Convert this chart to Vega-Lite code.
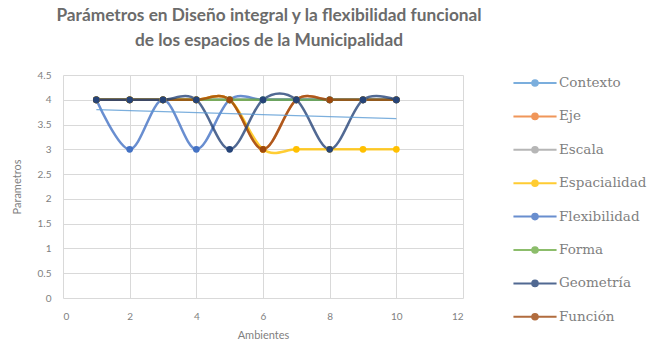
{
  "$schema": "https://vega.github.io/schema/vega-lite/v6.json",
  "width": 400,
  "height": 223,
  "autosize": {"type": "none"},
  "padding": {"left": 63, "top": 75, "right": 191, "bottom": 47},
  "background": "white",
  "title": {
    "text": ["Parámetros en Diseño integral y la flexibilidad funcional", "de los espacios de la Municipalidad"],
    "font": "Lato",
    "fontSize": 17.3,
    "fontWeight": "bold",
    "color": "#6b6b6b",
    "anchor": "middle",
    "frame": "group",
    "dx": 6,
    "lineHeight": 25,
    "offset": 16
  },
  "config": {
    "view": {"stroke": null},
    "axis": {
      "labelFont": "Lato",
      "titleFont": "Lato",
      "labelColor": "#7f7f7f",
      "titleColor": "#7f7f7f",
      "labelFontSize": 10,
      "titleFontSize": 11,
      "titleFontWeight": "normal",
      "gridColor": "#d9d9d9",
      "gridWidth": 1,
      "domain": false,
      "ticks": false,
      "labelOverlap": false
    }
  },
  "datasets": {
    "series": [
      {"serie": "Contexto", "ambiente": 1, "valor": 4},
      {"serie": "Contexto", "ambiente": 2, "valor": 4},
      {"serie": "Contexto", "ambiente": 3, "valor": 4},
      {"serie": "Contexto", "ambiente": 4, "valor": 4},
      {"serie": "Contexto", "ambiente": 5, "valor": 4},
      {"serie": "Contexto", "ambiente": 6, "valor": 4},
      {"serie": "Contexto", "ambiente": 7, "valor": 4},
      {"serie": "Contexto", "ambiente": 8, "valor": 4},
      {"serie": "Contexto", "ambiente": 9, "valor": 4},
      {"serie": "Contexto", "ambiente": 10, "valor": 4},
      {"serie": "Eje", "ambiente": 1, "valor": 4},
      {"serie": "Eje", "ambiente": 2, "valor": 4},
      {"serie": "Eje", "ambiente": 3, "valor": 4},
      {"serie": "Eje", "ambiente": 4, "valor": 4},
      {"serie": "Eje", "ambiente": 5, "valor": 4},
      {"serie": "Eje", "ambiente": 6, "valor": 3},
      {"serie": "Eje", "ambiente": 7, "valor": 4},
      {"serie": "Eje", "ambiente": 8, "valor": 4},
      {"serie": "Eje", "ambiente": 9, "valor": 4},
      {"serie": "Eje", "ambiente": 10, "valor": 4},
      {"serie": "Escala", "ambiente": 1, "valor": 4},
      {"serie": "Escala", "ambiente": 2, "valor": 4},
      {"serie": "Escala", "ambiente": 3, "valor": 4},
      {"serie": "Escala", "ambiente": 4, "valor": 4},
      {"serie": "Escala", "ambiente": 5, "valor": 4},
      {"serie": "Escala", "ambiente": 6, "valor": 4},
      {"serie": "Escala", "ambiente": 7, "valor": 4},
      {"serie": "Escala", "ambiente": 8, "valor": 4},
      {"serie": "Escala", "ambiente": 9, "valor": 4},
      {"serie": "Escala", "ambiente": 10, "valor": 4},
      {"serie": "Espacialidad", "ambiente": 1, "valor": 4},
      {"serie": "Espacialidad", "ambiente": 2, "valor": 4},
      {"serie": "Espacialidad", "ambiente": 3, "valor": 4},
      {"serie": "Espacialidad", "ambiente": 4, "valor": 4},
      {"serie": "Espacialidad", "ambiente": 5, "valor": 4},
      {"serie": "Espacialidad", "ambiente": 6, "valor": 3},
      {"serie": "Espacialidad", "ambiente": 7, "valor": 3},
      {"serie": "Espacialidad", "ambiente": 8, "valor": 3},
      {"serie": "Espacialidad", "ambiente": 9, "valor": 3},
      {"serie": "Espacialidad", "ambiente": 10, "valor": 3},
      {"serie": "Flexibilidad", "ambiente": 1, "valor": 4},
      {"serie": "Flexibilidad", "ambiente": 2, "valor": 3},
      {"serie": "Flexibilidad", "ambiente": 3, "valor": 4},
      {"serie": "Flexibilidad", "ambiente": 4, "valor": 3},
      {"serie": "Flexibilidad", "ambiente": 5, "valor": 4},
      {"serie": "Flexibilidad", "ambiente": 6, "valor": 4},
      {"serie": "Flexibilidad", "ambiente": 7, "valor": 4},
      {"serie": "Flexibilidad", "ambiente": 8, "valor": 4},
      {"serie": "Flexibilidad", "ambiente": 9, "valor": 4},
      {"serie": "Flexibilidad", "ambiente": 10, "valor": 4},
      {"serie": "Forma", "ambiente": 1, "valor": 4},
      {"serie": "Forma", "ambiente": 2, "valor": 4},
      {"serie": "Forma", "ambiente": 3, "valor": 4},
      {"serie": "Forma", "ambiente": 4, "valor": 4},
      {"serie": "Forma", "ambiente": 5, "valor": 4},
      {"serie": "Forma", "ambiente": 6, "valor": 4},
      {"serie": "Forma", "ambiente": 7, "valor": 4},
      {"serie": "Forma", "ambiente": 8, "valor": 4},
      {"serie": "Forma", "ambiente": 9, "valor": 4},
      {"serie": "Forma", "ambiente": 10, "valor": 4},
      {"serie": "Función", "ambiente": 1, "valor": 4},
      {"serie": "Función", "ambiente": 2, "valor": 4},
      {"serie": "Función", "ambiente": 3, "valor": 4},
      {"serie": "Función", "ambiente": 4, "valor": 4},
      {"serie": "Función", "ambiente": 5, "valor": 4},
      {"serie": "Función", "ambiente": 6, "valor": 3},
      {"serie": "Función", "ambiente": 7, "valor": 4},
      {"serie": "Función", "ambiente": 8, "valor": 4},
      {"serie": "Función", "ambiente": 9, "valor": 4},
      {"serie": "Función", "ambiente": 10, "valor": 4},
      {"serie": "Geometría", "ambiente": 1, "valor": 4},
      {"serie": "Geometría", "ambiente": 2, "valor": 4},
      {"serie": "Geometría", "ambiente": 3, "valor": 4},
      {"serie": "Geometría", "ambiente": 4, "valor": 4},
      {"serie": "Geometría", "ambiente": 5, "valor": 3},
      {"serie": "Geometría", "ambiente": 6, "valor": 4},
      {"serie": "Geometría", "ambiente": 7, "valor": 4},
      {"serie": "Geometría", "ambiente": 8, "valor": 3},
      {"serie": "Geometría", "ambiente": 9, "valor": 4},
      {"serie": "Geometría", "ambiente": 10, "valor": 4}
    ],
    "tendencia": [
      {"ambiente": 1, "valor": 3.8},
      {"ambiente": 10, "valor": 3.62}
    ]
  },
  "layer": [
    {
      "data": {"name": "series"},
      "mark": {
        "type": "line",
        "interpolate": "cardinal",
        "tension": 0,
        "strokeWidth": 2.5,
        "opacity": 0.8,
        "point": {"size": 45, "filled": true, "opacity": 1}
      },
      "encoding": {
        "x": {
          "field": "ambiente",
          "type": "quantitative",
          "scale": {"domain": [0, 12], "nice": false},
          "axis": {
            "title": "Ambientes",
            "values": [0, 2, 4, 6, 8, 10, 12],
            "labelPadding": 13,
            "titlePadding": 8
          }
        },
        "y": {
          "field": "valor",
          "type": "quantitative",
          "scale": {"domain": [0, 4.5], "nice": false},
          "axis": {
            "title": "Parametros",
            "values": [0, 0.5, 1, 1.5, 2, 2.5, 3, 3.5, 4, 4.5],
            "format": "~g",
            "labelPadding": 12,
            "titlePadding": 15
          }
        },
        "color": {
          "field": "serie",
          "type": "nominal",
          "scale": {
            "domain": ["Contexto", "Eje", "Escala", "Espacialidad", "Flexibilidad", "Forma", "Geometría", "Función"],
            "range": ["#5B9BD5", "#ED7D31", "#A5A5A5", "#FFC000", "#4472C4", "#70AD47", "#264478", "#9E480E"]
          },
          "legend": {
            "title": null,
            "orient": "none",
            "legendX": 454,
            "legendY": -10,
            "padding": 0,
            "rowPadding": 8.4,
            "symbolType": "M-1.3,0L1.3,0M-0.17,0A0.17,0.17 0 1,1 0.17,0A0.17,0.17 0 1,1 -0.17,0Z",
            "symbolSize": 1100,
            "symbolStrokeWidth": 2,
            "labelOffset": 6,
            "labelFont": "DejaVu Serif",
            "labelFontSize": 13.5,
            "labelColor": "#7f7f7f",
            "encode": {
              "symbols": {
                "update": {
                  "fill": {"scale": "color", "field": "value"},
                  "stroke": {"scale": "color", "field": "value"}
                }
              }
            }
          }
        }
      }
    },
    {
      "data": {"name": "tendencia"},
      "mark": {"type": "line", "strokeWidth": 1.2, "color": "#5B9BD5", "opacity": 0.8},
      "encoding": {
        "x": {
          "field": "ambiente",
          "type": "quantitative",
          "axis": {
            "title": "Ambientes",
            "values": [0, 2, 4, 6, 8, 10, 12],
            "labelPadding": 13,
            "titlePadding": 8
          }
        },
        "y": {
          "field": "valor",
          "type": "quantitative",
          "axis": {
            "title": "Parametros",
            "values": [0, 0.5, 1, 1.5, 2, 2.5, 3, 3.5, 4, 4.5],
            "format": "~g",
            "labelPadding": 12,
            "titlePadding": 15
          }
        }
      }
    }
  ]
}
